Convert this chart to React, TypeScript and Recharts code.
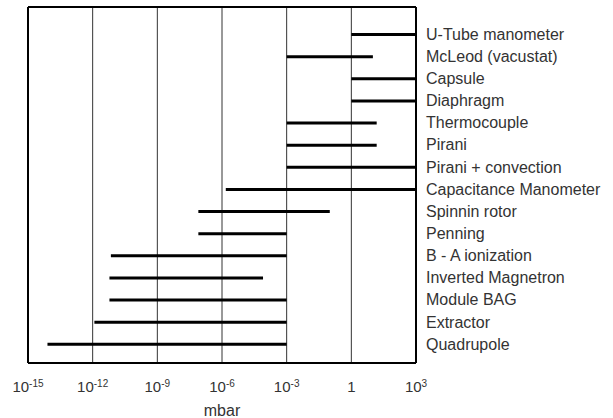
import React from 'react';
import { BarChart, Bar, XAxis, YAxis, CartesianGrid, ReferenceLine } from 'recharts';

// measuring range of each vacuum gauge, in mbar (top row first)
const gauges = [
  'U-Tube manometer',
  'McLeod (vacustat)',
  'Capsule',
  'Diaphragm',
  'Thermocouple',
  'Pirani',
  'Pirani + convection',
  'Capacitance Manometer',
  'Spinnin rotor',
  'Penning',
  'B - A ionization',
  'Inverted Magnetron',
  'Module BAG',
  'Extractor',
  'Quadrupole',
];
const lowMbar = [1, 1e-3, 1, 1, 1e-3, 1e-3, 1e-3, 1.5e-6, 8e-8, 8e-8, 7e-12, 6e-12, 6e-12, 1.2e-12, 8e-15];
const highMbar = [1000, 10, 1000, 1000, 15, 15, 1000, 1000, 0.1, 1e-3, 1e-3, 8e-5, 1e-3, 1e-3, 1e-3];
const decadeTicks = [-15, -12, -9, -6, -3, 0, 3];

const data = gauges.map((name, i) => ({
  name,
  range: [Math.log10(lowMbar[i]), Math.log10(highMbar[i])],
}));

const FONT = '"Liberation Sans", Arial, sans-serif';

const PowerTick = (props: any) => {
  const { x, y, payload } = props;
  const exp = payload.value;
  return (
    <text x={x} y={y + 29} textAnchor="middle" fontFamily={FONT} fill="#333">
      {exp === 0 ? (
        <tspan fontSize={15}>1</tspan>
      ) : (
        <>
          <tspan fontSize={15}>10</tspan>
          <tspan fontSize={10} dy={-5}>{exp}</tspan>
        </>
      )}
    </text>
  );
};

const NameTick = (props: any) => {
  const { x, y, payload } = props;
  return (
    <text x={x} y={y} dy="0.36em" fontSize={16} fontFamily={FONT} fill="#333">
      {payload.value}
    </text>
  );
};

const MbarLabel = (props: any) => {
  const { viewBox } = props;
  return (
    <text
      x={viewBox.x + viewBox.width / 2}
      y={416}
      textAnchor="middle"
      fontSize={16}
      fontFamily={FONT}
      fill="#333"
    >
      mbar
    </text>
  );
};

const App = () => {
  return (
    <div style={{ position: 'absolute', left: 0, top: 0 }}>
      <BarChart
        width={613}
        height={418}
        data={data}
        layout="vertical"
        margin={{ top: 5, right: 0, left: 28, bottom: 0 }}
      >
        <CartesianGrid horizontal={false} stroke="#333" strokeWidth={1} />
        <XAxis
          type="number"
          domain={[-15, 3]}
          ticks={decadeTicks}
          interval={0}
          allowDataOverflow
          height={55}
          tickSize={0}
          tickMargin={0}
          tick={<PowerTick />}
          axisLine={{ stroke: '#000', strokeWidth: 2 }}
          tickLine={false}
          label={<MbarLabel />}
        />
        <XAxis
          xAxisId="top"
          orientation="top"
          type="number"
          domain={[-15, 3]}
          height={2}
          tick={false}
          tickLine={false}
          axisLine={{ stroke: '#000', strokeWidth: 2 }}
        />
        <YAxis
          yAxisId="names"
          type="category"
          dataKey="name"
          orientation="right"
          width={197}
          interval={0}
          padding={{ top: 16, bottom: 8 }}
          tickSize={0}
          tickMargin={10}
          axisLine={false}
          tickLine={false}
          tick={<NameTick />}
        />
        <ReferenceLine x={-15} yAxisId="names" stroke="#000" strokeWidth={2} />
        <ReferenceLine x={3} yAxisId="names" stroke="#000" strokeWidth={2} />
        <Bar
          dataKey="range"
          yAxisId="names"
          fill="#000"
          barSize={3}
          isAnimationActive={false}
        />
      </BarChart>
    </div>
  );
};

export default App;
